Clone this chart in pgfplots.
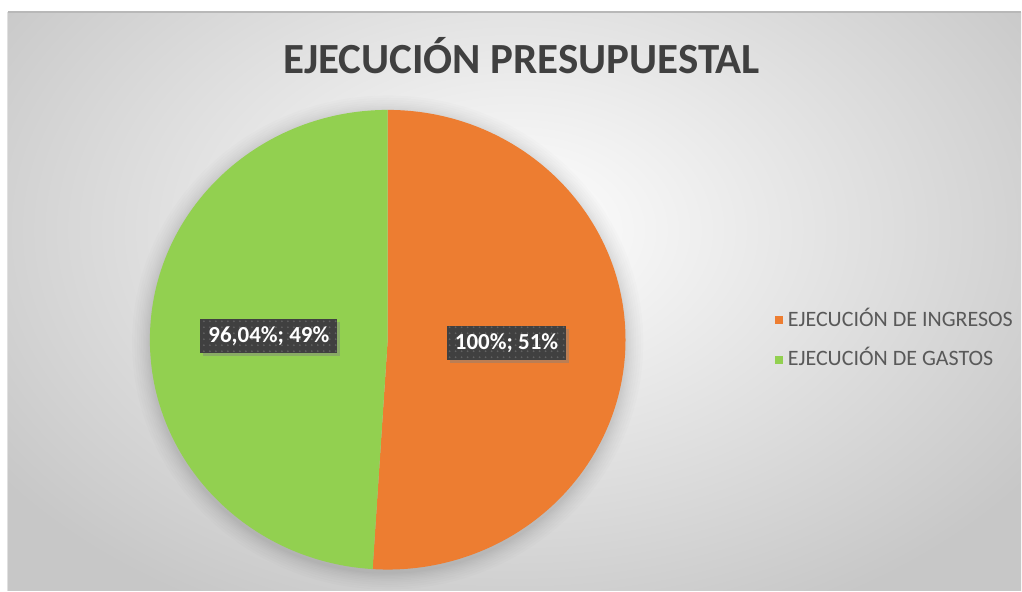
\documentclass[border=0pt]{standalone}
\usepackage{pgfplots}
\pgfplotsset{compat=1.18}
\usepackage{fontspec}
\setmainfont{Carlito}
\usetikzlibrary{shadows,patterns}
\definecolor{cOrange}{HTML}{ED7D31}
\definecolor{cGreen}{HTML}{92D050}
\definecolor{cDark}{HTML}{404040}
\definecolor{cLeg}{HTML}{595959}
\begin{document}
\begin{tikzpicture}
% data
\pgfmathsetmacro{\vA}{100}    % EJECUCION DE INGRESOS
\pgfmathsetmacro{\vB}{96.04}  % EJECUCION DE GASTOS
\pgfmathsetmacro{\fracA}{\vA/(\vA+\vB)}
\pgfmathsetmacro{\angA}{360*\fracA}
\pgfmathsetmacro{\endA}{90-\angA}
\pgfmathsetmacro{\midA}{90-\angA/2}
\pgfmathsetmacro{\midB}{\endA-(360-\angA)/2}
\begin{scope}[x=0.5pt,y=-0.5pt]
\fill[white] (0,0) rectangle (1022,591);
\begin{scope}
\clip (8,12) rectangle (1022,591);
\shade[inner color=white, outer color=black!22] (-120,-200) rectangle (1150,660);
\end{scope}
\draw[black!28, line width=0.8pt] (8,12) -- (1022,12);
\draw[black!12, line width=0.5pt] (8,12) -- (8,591);
\node[anchor=base, inner sep=0pt, font=\bfseries\fontsize{21.5}{25}\selectfont, text=cDark] at (522,74) {EJECUCIÓN PRESUPUESTAL};
% legend
\fill[cOrange] (776,316) rectangle (784,324);
\node[anchor=base west, inner sep=0pt, font=\fontsize{11}{13}\selectfont, text=cLeg] at (788,327) {EJECUCIÓN DE INGRESOS};
\fill[cGreen] (776,356) rectangle (784,364);
\node[anchor=base west, inner sep=0pt, font=\fontsize{11}{13}\selectfont, text=cLeg] at (788,366) {EJECUCIÓN DE GASTOS};
\end{scope}
\begin{axis}[at={(194pt,-170pt)}, anchor=center, width=238pt, height=230pt,
  scale only axis, hide axis, xmin=-1, xmax=1, ymin=-1, ymax=1, clip=false]
% soft shadow
\fill[black,opacity=0.012] (axis cs:0,-0.012) ellipse[x radius=1.075, y radius=1.075];
\fill[black,opacity=0.012] (axis cs:0,-0.012) ellipse[x radius=1.065, y radius=1.065];
\fill[black,opacity=0.012] (axis cs:0,-0.012) ellipse[x radius=1.055, y radius=1.055];
\fill[black,opacity=0.012] (axis cs:0,-0.012) ellipse[x radius=1.045, y radius=1.045];
\fill[black,opacity=0.012] (axis cs:0,-0.012) ellipse[x radius=1.037, y radius=1.037];
\fill[black,opacity=0.012] (axis cs:0,-0.012) ellipse[x radius=1.03, y radius=1.03];
\fill[black,opacity=0.012] (axis cs:0,-0.012) ellipse[x radius=1.023, y radius=1.023];
\fill[black,opacity=0.012] (axis cs:0,-0.012) ellipse[x radius=1.017, y radius=1.017];
\fill[black,opacity=0.012] (axis cs:0,-0.012) ellipse[x radius=1.011, y radius=1.011];
\fill[black,opacity=0.012] (axis cs:0,-0.012) ellipse[x radius=1.006, y radius=1.006];
% slices
\fill[cOrange] (axis cs:0,0) -- (axis cs:0,1) arc[start angle=90, end angle=\endA, radius=1] -- cycle;
\fill[cGreen] (axis cs:0,0) -- (axis cs:{cos(\endA)},{sin(\endA)}) arc[start angle=\endA, end angle=-270, radius=1] -- cycle;
% labels
\node[fill=cDark, text=white, font=\bfseries\fontsize{11.5}{14}\selectfont,
  inner xsep=4pt, minimum height=17pt,
  drop shadow={shadow xshift=1.5pt, shadow yshift=-1.5pt, opacity=0.45},
  postaction={pattern=dots, pattern color=black!62}]
  at (axis cs:{0.5*cos(\midA)},{0.5*sin(\midA)}) {100\%; 51\%};
\node[fill=cDark, text=white, font=\bfseries\fontsize{11.5}{14}\selectfont,
  inner xsep=4pt, minimum height=17pt,
  drop shadow={shadow xshift=1.5pt, shadow yshift=-1.5pt, opacity=0.45},
  postaction={pattern=dots, pattern color=black!62}]
  at (axis cs:{0.5*cos(\midB)},{0.5*sin(\midB)}) {96,04\%; 49\%};
\end{axis}
\end{tikzpicture}
\end{document}
